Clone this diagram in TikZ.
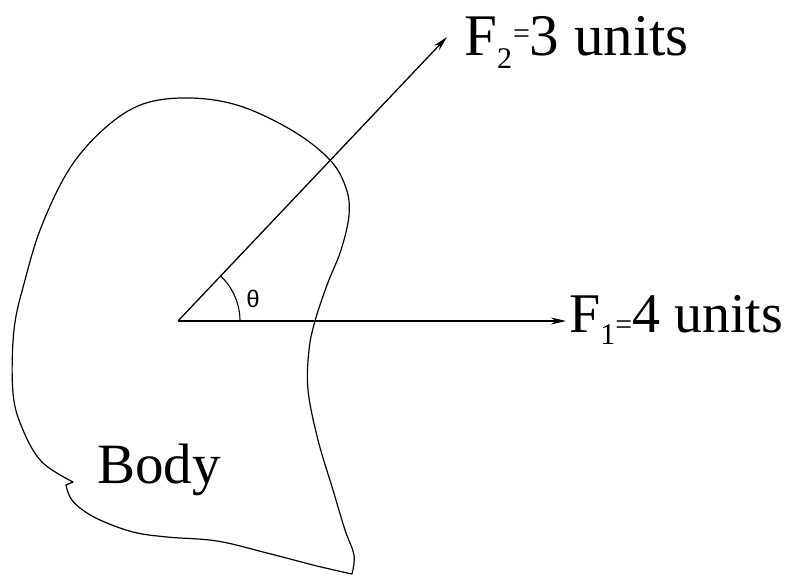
\documentclass[tikz,border=0pt]{standalone}
\usepackage{fontspec}
\setmainfont{Liberation Serif}
\newfontfamily\anglefont{Liberation Sans}
\usepackage{tikz}
\usetikzlibrary{arrows.meta,positioning,calc}

\newcommand\subnum[2]{{\fontsize{30}{30}\selectfont\raisebox{#1}{#2}}}

\begin{document}
\begin{tikzpicture}[
    x=1pt, y=-1pt,
    outline/.style={line width=1.2pt, line join=round},
    force/.style={-{Stealth[length=15pt,width=7pt]}, line width=1.3pt},
    forcelabel/.style={anchor=base west, inner sep=0pt},
    bodylabel/.style={anchor=base west, inner sep=0pt}
]
\useasboundingbox (0,0) rectangle (789,576);

\draw[outline] (66,485)
    -- plot[smooth, tension=0.6] coordinates {(66,485) (70,497) (80,508) (100,520) (133,532) (167,537) (217,541) (267,553) (317,566) (352,574)}
    -- plot[smooth, tension=0.6] coordinates {(352,574) (354,555) (345,530) (333,490) (318,440) (308,390) (309,350) (315,321) (327,285) (341,250) (349,215) (346,188) (330,160) (293,131) (240,106) (190,98) (143,104) (105,128) (70,168) (42,225) (25,280) (14,330) (13,393) (23,430) (42,462) (73,482)}
    -- cycle;

\coordinate (O) at (178,321);
\coordinate (f1tip) at (566,321);
\coordinate (f2tip) at (447,37);

\draw[force] (O) -- (f1tip);
\draw[force] (O) -- (f2tip);
\draw[line width=1.1pt] ($(O)+(62,0)$) arc[start angle=0, end angle=-46.5, radius=62];

\node[bodylabel] (body) at (97,483) {\rmfamily\fontsize{57}{60}\selectfont Body};
\node[forcelabel] (f1lbl) at (569,332) {\rmfamily\fontsize{56}{60}\selectfont F\subnum{-12pt}{1}\subnum{-2pt}{=}4 units};
\node[forcelabel] (f2lbl) at (464,55) {\rmfamily\fontsize{59}{64}\selectfont F\subnum{-13pt}{2}\kern1pt\subnum{12pt}{=}3 units};
\node (theta) at (253,299) {\anglefont\fontsize{24}{24}\selectfont θ};
\end{tikzpicture}
\end{document}
